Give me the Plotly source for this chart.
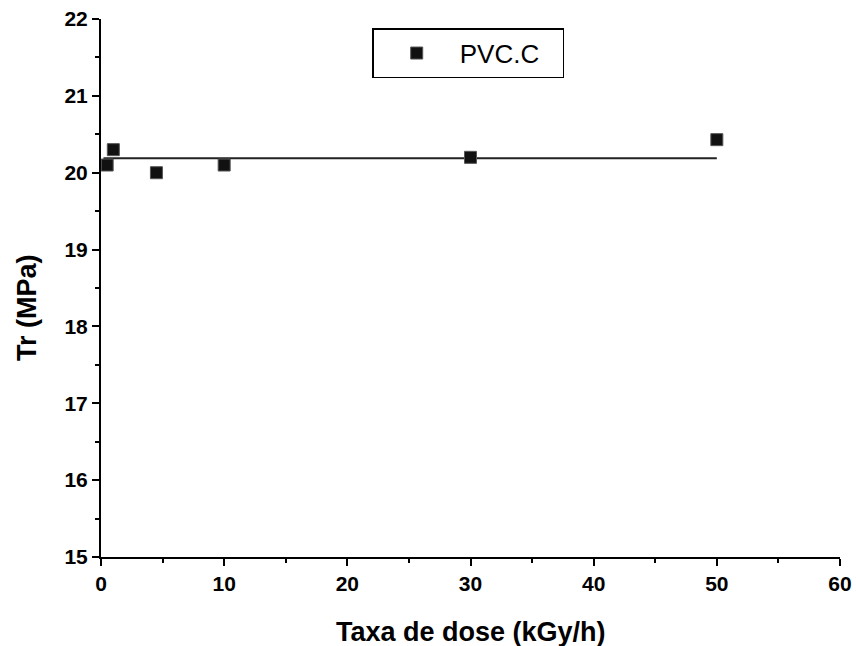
import numpy as np
import plotly.graph_objects as go

dose_rate = [0.5, 1.0, 4.5, 10.0, 30.0, 50.0]
tr_mpa = [20.1, 20.3, 20.0, 20.1, 20.2, 20.43]
series_name = "PVC.C"

x_tick_vals = [0, 10, 20, 30, 40, 50, 60]
x_tick_labels = ["0", "10", "20", "30", "40", "50", "60"]
y_tick_vals = [15, 16, 17, 18, 19, 20, 21, 22]
y_tick_labels = ["15", "16", "17", "18", "19", "20", "21", "22"]

fit_x = [0.2, 50.0]
fit_level = float(np.mean(tr_mpa))
fit_y = [fit_level, fit_level]

font_family = "Liberation Sans, Arial, sans-serif"

fig = go.Figure()
fig.add_trace(go.Scatter(
    x=fit_x, y=fit_y, mode="lines",
    line=dict(color="#222", width=2), showlegend=False, hoverinfo="skip"))
fig.add_trace(go.Scatter(
    x=dose_rate, y=tr_mpa, mode="markers", name=series_name,
    marker=dict(symbol="square", size=12, color="#111",
                line=dict(color="#555", width=1))))

axis_common = dict(
    showgrid=False, zeroline=False, showline=True, linecolor="black", linewidth=2,
    ticks="outside", tickcolor="black", tickwidth=2, ticklen=7,
    tickfont=dict(family=font_family, size=21, color="black", weight="bold"),
    mirror=False, automargin=False, tickmode="array",
)

fig.update_xaxes(
    range=[0, 60],
    tickvals=x_tick_vals, ticktext=["<b>%s</b>" % t for t in x_tick_labels],
    minor=dict(ticks="outside", dtick=5, tick0=0, ticklen=4, tickwidth=2, tickcolor="black"),
    **axis_common)
fig.update_yaxes(
    range=[15, 22],
    tickvals=y_tick_vals, ticktext=["<b>%s</b>" % t for t in y_tick_labels],
    minor=dict(ticks="outside", dtick=0.5, tick0=15, ticklen=4, tickwidth=2, tickcolor="black"),
    **axis_common)

title_font = dict(family=font_family, size=27, color="black", weight="bold")
fig.add_annotation(text="Taxa de dose (kGy/h)", xref="paper", yref="paper",
                   x=0.5, y=(557 - 632) / 538, xanchor="center", yanchor="middle",
                   showarrow=False, font=title_font)
fig.add_annotation(text="Tr (MPa)", xref="paper", yref="paper", textangle=-90,
                   x=(27 - 101) / 739, y=(557 - 308) / 538, xanchor="center", yanchor="middle",
                   showarrow=False, font=title_font)

fig.update_layout(
    width=856, height=646,
    margin=dict(l=101, r=16, t=19, b=89),
    plot_bgcolor="white", paper_bgcolor="white",
    legend=dict(x=0.367, y=0.983, xanchor="left", yanchor="top",
                orientation="h",
                bordercolor="black", borderwidth=1.5, bgcolor="white",
                font=dict(family=font_family, size=26, color="black"),
                itemwidth=76, entrywidth=98, entrywidthmode="pixels"),
)

fig.write_html("out.html", config={"displayModeBar": False},
               post_script="document.body.style.margin='0';document.body.style.overflow='hidden';")
